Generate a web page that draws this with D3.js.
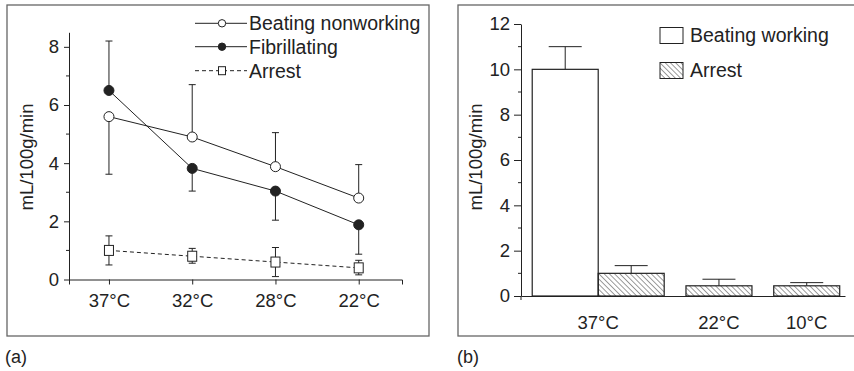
<!DOCTYPE html>
<html>
<head>
<meta charset="utf-8">
<script src="https://cdn.jsdelivr.net/npm/d3@7"></script>
<style>
  body { margin: 0; background: #fff; }
  text { font-family: "Liberation Sans", Arial, sans-serif; fill: #222; }
</style>
</head>
<body>
<svg id="chart" width="854" height="371"></svg>
<script>
// Panel (a) data
const tempsA = ["37°C", "32°C", "28°C", "22°C"];
const nonworking = [5.6, 4.9, 3.88, 2.8];
const nonworkingErrEnd = [3.62, 6.7, 5.05, 3.95];   // one-sided error bars
const fibrillating = [6.5, 3.82, 3.04, 1.88];
const fibrillatingErrEnd = [8.2, 3.04, 2.04, 0.87];
const arrestA = [1.0, 0.8, 0.6, 0.4];
const arrestAHi = [1.5, 1.07, 1.1, 0.66];
const arrestALo = [0.5, 0.56, 0.1, 0.16];
const ticksA = [0, 2, 4, 6, 8];
const minorA = [1, 3, 5, 7];

// Panel (b) data
const tempsB = ["37°C", "22°C", "10°C"];
const beatingWorking = [10.0, null, null];
const beatingWorkingErr = [11.0, null, null];
const arrestB = [1.0, 0.45, 0.45];
const arrestBErr = [1.34, 0.74, 0.59];
const ticksB = [0, 2, 4, 6, 8, 10, 12];
const minorB = [1, 3, 5, 7, 9, 11];

const ink = "#222";
const svg = d3.select("#chart");

// frames
svg.append("rect").attr("x", 7).attr("y", 5).attr("width", 422).attr("height", 331)
    .attr("fill", "none").attr("stroke", "#666").attr("stroke-width", 1.3);
svg.append("rect").attr("x", 458).attr("y", 5).attr("width", 410).attr("height", 331)
    .attr("fill", "none").attr("stroke", "#666").attr("stroke-width", 1.3);

svg.append("text").attr("x", 5).attr("y", 363).style("font-size", "18px").text("(a)");
svg.append("text").attr("x", 457).attr("y", 363).style("font-size", "18px").text("(b)");

// ---------- Panel (a) ----------
const xa = d3.scaleLinear().domain([-0.48, 3.52]).range([69, 402]);
const ya = d3.scaleLinear().domain([0, 8.5]).range([279.5, 32.3]);

const ga = svg.append("g");

const xAxisA = ga.append("g")
    .attr("transform", `translate(0,${ya(0)})`)
    .call(d3.axisBottom(xa).tickValues(d3.range(tempsA.length))
        .tickFormat(i => tempsA[i]).tickSize(5).tickSizeOuter(5).tickPadding(9));

const yAxisA = ga.append("g")
    .attr("transform", `translate(${xa.range()[0]},0)`)
    .call(d3.axisLeft(ya).tickValues(ticksA).tickSize(5).tickSizeOuter(0).tickPadding(5));

ga.append("g").selectAll("line").data(minorA).join("line")
    .attr("x1", xa.range()[0] - 3).attr("x2", xa.range()[0])
    .attr("y1", d => ya(d)).attr("y2", d => ya(d));

[xAxisA, yAxisA].forEach(a => {
    a.selectAll("path, line").attr("stroke", ink);
    a.selectAll("text").style("font-size", "18.5px").attr("fill", ink);
});
ga.selectAll("line").attr("stroke", ink);

ga.append("text")
    .attr("transform", `translate(33,157) rotate(-90)`)
    .attr("text-anchor", "middle").style("font-size", "18.5px")
    .text("mL/100g/min");

const lineA = d3.line().x((d, i) => xa(i)).y(d => ya(d));

ga.append("path").datum(nonworking).attr("d", lineA)
    .attr("fill", "none").attr("stroke", ink).attr("stroke-width", 1);
ga.append("path").datum(fibrillating).attr("d", lineA)
    .attr("fill", "none").attr("stroke", ink).attr("stroke-width", 1);
ga.append("path").datum(arrestA).attr("d", lineA)
    .attr("fill", "none").attr("stroke", ink).attr("stroke-width", 1)
    .attr("stroke-dasharray", "4,3");

function errBar(g, i, from, to, cap) {
    g.append("line").attr("x1", xa(i)).attr("x2", xa(i))
        .attr("y1", ya(from)).attr("y2", ya(to)).attr("stroke", ink);
    g.append("line").attr("x1", xa(i) - cap / 2).attr("x2", xa(i) + cap / 2)
        .attr("y1", ya(to)).attr("y2", ya(to)).attr("stroke", ink);
}

const errA = ga.append("g");
nonworking.forEach((v, i) => errBar(errA, i, v, nonworkingErrEnd[i], 7));
fibrillating.forEach((v, i) => errBar(errA, i, v, fibrillatingErrEnd[i], 7));
arrestA.forEach((v, i) => {
    errBar(errA, i, v, arrestAHi[i], 7);
    errBar(errA, i, v, arrestALo[i], 7);
});

ga.append("g").selectAll("circle").data(nonworking).join("circle")
    .attr("cx", (d, i) => xa(i)).attr("cy", d => ya(d)).attr("r", 5)
    .attr("fill", "#fff").attr("stroke", ink).attr("stroke-width", 1);
ga.append("g").selectAll("circle").data(fibrillating).join("circle")
    .attr("cx", (d, i) => xa(i)).attr("cy", d => ya(d)).attr("r", 5)
    .attr("fill", ink).attr("stroke", ink).attr("stroke-width", 1);
ga.append("g").selectAll("rect").data(arrestA).join("rect")
    .attr("x", (d, i) => xa(i) - 4.5).attr("y", d => ya(d) - 5)
    .attr("width", 9).attr("height", 10)
    .attr("fill", "#fff").attr("stroke", ink).attr("stroke-width", 1);

// legend (a)
const legA = [
    { name: "Beating nonworking", marker: "open", y: 23.3 },
    { name: "Fibrillating", marker: "filled", y: 46.7 },
    { name: "Arrest", marker: "square", y: 70.7 }
];
const la = ga.append("g");
legA.forEach(d => {
    la.append("line").attr("x1", 195).attr("x2", 247).attr("y1", d.y).attr("y2", d.y)
        .attr("stroke", ink).attr("stroke-dasharray", d.marker === "square" ? "4,3" : null);
    if (d.marker === "square") {
        la.append("rect").attr("x", 218.5).attr("y", d.y - 4).attr("width", 7).attr("height", 8)
            .attr("fill", "#fff").attr("stroke", ink);
    } else {
        la.append("circle").attr("cx", 222).attr("cy", d.y).attr("r", 3.7)
            .attr("fill", d.marker === "open" ? "#fff" : ink).attr("stroke", ink);
    }
    la.append("text").attr("x", 249).attr("y", d.y + 7).style("font-size", "19.5px").text(d.name);
});

// ---------- Panel (b) ----------
const defs = svg.append("defs");
const pat = defs.append("pattern").attr("id", "hatch").attr("patternUnits", "userSpaceOnUse")
    .attr("width", 3.7).attr("height", 3.7).attr("patternTransform", "rotate(-45)");
pat.append("line").attr("x1", 0).attr("y1", 0).attr("x2", 0).attr("y2", 3.7)
    .attr("stroke", "#222").attr("stroke-width", 0.9);

// bar layout in units of one bar width
const leftPad = 0.17, groupGap = 0.33, rightPad = 0.08;
const bars = [];
let cursor = leftPad;
const groupCenters = [];
tempsB.forEach((t, gi) => {
    const start = cursor;
    [[beatingWorking, beatingWorkingErr, "white"], [arrestB, arrestBErr, "hatch"]].forEach(([vals, errs, kind]) => {
        if (vals[gi] != null) {
            bars.push({ pos: cursor, value: vals[gi], err: errs[gi], kind });
            cursor += 1;
        }
    });
    groupCenters.push((start + cursor) / 2);
    cursor += groupGap;
});
const totalUnits = cursor - groupGap + rightPad;

const xb = d3.scaleLinear().domain([0, totalUnits]).range([521, 845]);
const yb = d3.scaleLinear().domain([0, 12]).range([296, 24]);
const gb = svg.append("g");

const yAxisB = gb.append("g").attr("transform", `translate(${xb(0)},0)`)
    .call(d3.axisLeft(yb).tickValues(ticksB).tickSize(7).tickSizeOuter(0).tickPadding(4));
gb.append("g").selectAll("line").data(minorB).join("line")
    .attr("x1", xb(0) - 3).attr("x2", xb(0)).attr("y1", d => yb(d)).attr("y2", d => yb(d));
const xAxisB = gb.append("g").attr("transform", `translate(0,${yb(0)})`)
    .call(d3.axisBottom(xb).tickValues([]).tickSizeOuter(0));
gb.append("line").attr("x1", xb(0)).attr("x2", xb(0)).attr("y1", yb(0)).attr("y2", yb(0) + 4);
[xAxisB, yAxisB].forEach(a => {
    a.selectAll("path, line").attr("stroke", ink);
    a.selectAll("text").style("font-size", "18.5px").attr("fill", ink);
});
gb.selectAll("line").attr("stroke", ink);

gb.append("text")
    .attr("transform", `translate(482,157) rotate(-90)`)
    .attr("text-anchor", "middle").style("font-size", "18.5px")
    .text("mL/100g/min");

const bw = xb(1) - xb(0);
const barG = gb.append("g");
bars.forEach(b => {
    const x0 = xb(b.pos), xc = xb(b.pos + 0.5);
    barG.append("line").attr("x1", xc).attr("x2", xc).attr("y1", yb(b.value)).attr("y2", yb(b.err))
        .attr("stroke", ink);
    barG.append("line").attr("x1", xc - bw * 0.25).attr("x2", xc + bw * 0.25)
        .attr("y1", yb(b.err)).attr("y2", yb(b.err)).attr("stroke", ink);
    barG.append("rect").attr("x", x0).attr("y", yb(b.value))
        .attr("width", bw).attr("height", yb(0) - yb(b.value))
        .attr("fill", b.kind === "hatch" ? "url(#hatch)" : "#fff")
        .attr("stroke", ink).attr("stroke-width", 1.2);
});

gb.append("g").selectAll("text").data(tempsB).join("text")
    .attr("x", (d, i) => xb(groupCenters[i])).attr("y", 329)
    .attr("text-anchor", "middle").style("font-size", "18.5px").text(d => d);

// legend (b)
const legB = [
    { name: "Beating working", fill: "#fff", y: 27.5 },
    { name: "Arrest", fill: "url(#hatch)", y: 62.5 }
];
legB.forEach(d => {
    gb.append("rect").attr("x", 660).attr("y", d.y).attr("width", 23).attr("height", 16)
        .attr("fill", d.fill).attr("stroke", ink).attr("stroke-width", 1);
    gb.append("text").attr("x", 690).attr("y", d.y + 14).style("font-size", "19.5px").text(d.name);
});
</script>
</body>
</html>
